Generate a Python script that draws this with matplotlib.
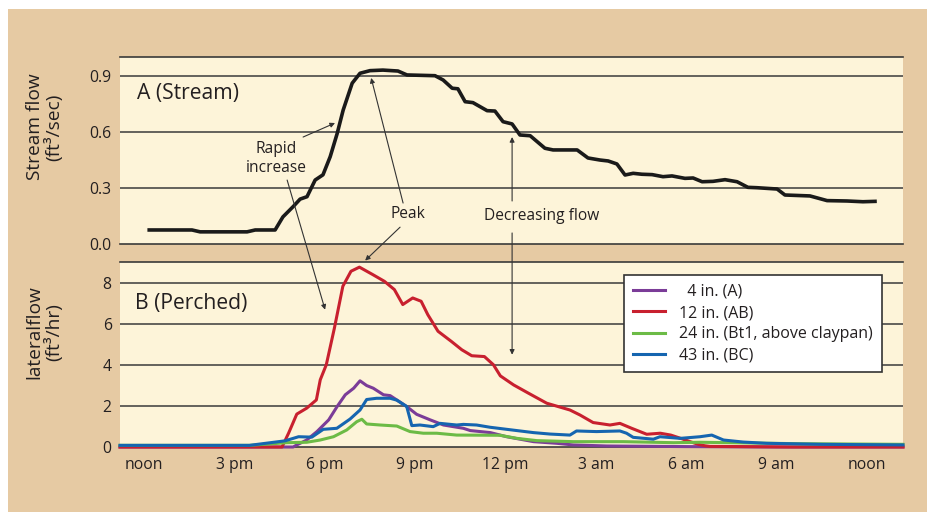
import matplotlib
matplotlib.use("Agg")
import matplotlib.pyplot as plt
from matplotlib.patches import Rectangle

plt.rcParams['font.family'] = ['Open Sans', 'DejaVu Sans']

# ---------------- data ----------------
# hours after noon (day 1) -> noon (day 2)
stream_t = [0.17, 1.59, 1.86, 3.42, 3.69, 4.35, 4.61, 4.95, 5.18, 5.41, 5.68, 5.94, 6.18,
            6.41, 6.61, 6.91, 7.17, 7.50, 7.93, 8.43, 8.73, 9.66, 9.93, 10.23, 10.42, 10.66,
            10.92, 11.39, 11.65, 11.92, 12.22, 12.48, 12.82, 13.31, 13.58, 14.38, 14.74,
            15.14, 15.41, 15.70, 15.97, 16.24, 16.53, 16.87, 17.23, 17.53, 17.96, 18.23,
            18.53, 18.89, 19.29, 19.69, 20.05, 20.35, 21.02, 21.28, 22.11, 22.68, 23.34,
            23.87, 24.27]
stream_q = [0.075, 0.075, 0.065, 0.065, 0.075, 0.075, 0.145, 0.20, 0.240, 0.253, 0.342,
            0.370, 0.467, 0.590, 0.716, 0.860, 0.913, 0.927, 0.930, 0.925, 0.904, 0.900,
            0.877, 0.833, 0.830, 0.761, 0.756, 0.713, 0.711, 0.654, 0.642, 0.583, 0.579,
            0.512, 0.503, 0.503, 0.460, 0.449, 0.444, 0.428, 0.369, 0.378, 0.373, 0.371,
            0.360, 0.364, 0.351, 0.353, 0.333, 0.335, 0.344, 0.333, 0.303, 0.301, 0.294,
            0.262, 0.257, 0.232, 0.230, 0.226, 0.228]

# perched lateral flow, x in hours after noon
red_t = [-0.8, 3.5, 4.58, 4.80, 5.07, 5.40, 5.72, 5.85, 6.05, 6.32, 6.60, 6.87, 7.15, 7.59,
         7.98, 8.31, 8.59, 8.92, 9.20, 9.42, 9.76, 10.20, 10.55, 10.88, 11.30, 11.60, 11.83,
         12.27, 12.76, 13.37, 14.14, 14.47, 14.91, 15.47, 15.80, 16.19, 16.69, 17.14, 17.49,
         17.82, 18.13, 18.40, 18.62, 18.79, 19.79, 21.5, 23.0, 25.2]
red_v = [0.0, 0.0, 0.0, 0.68, 1.60, 1.89, 2.29, 3.27, 4.00, 5.79, 7.82, 8.55, 8.75, 8.39,
         8.06, 7.66, 6.93, 7.25, 7.09, 6.44, 5.63, 5.14, 4.73, 4.44, 4.40, 4.00, 3.46,
         3.02, 2.62, 2.13, 1.80, 1.56, 1.19, 1.07, 1.15, 0.91, 0.62, 0.67, 0.58, 0.42,
         0.26, 0.13, 0.06, 0.03, 0.02, 0.0, 0.0, 0.0]

purple_t = [-0.8, 3.5, 4.95, 5.07, 5.40, 5.74, 6.13, 6.41, 6.68, 6.96, 7.17, 7.39, 7.61,
            7.95, 8.17, 8.39, 8.72, 9.05, 9.50, 9.94, 10.27, 10.60, 10.83, 11.50, 12.04,
            12.93, 13.70, 14.25, 15.36, 17.98, 21.0, 25.2]
purple_v = [0.0, 0.0, 0.0, 0.10, 0.34, 0.75, 1.32, 1.97, 2.54, 2.86, 3.22, 2.99, 2.86,
            2.54, 2.50, 2.29, 1.97, 1.59, 1.32, 1.07, 0.99, 0.91, 0.80, 0.70, 0.50,
            0.26, 0.18, 0.10, 0.05, 0.02, 0.0, 0.0]

blue_t = [-0.8, 3.5, 4.68, 5.13, 5.57, 5.95, 6.40, 6.84, 7.17, 7.39, 7.72, 8.17, 8.39,
          8.72, 8.89, 9.16, 9.60, 9.83, 10.38, 10.60, 11.04, 11.49, 12.04, 12.93, 13.48,
          14.14, 14.36, 15.02, 15.80, 16.02, 16.24, 16.91, 17.13, 17.80, 18.46, 18.85,
          19.24, 19.90, 20.67, 22.5, 25.2]
blue_v = [0.08, 0.08, 0.30, 0.50, 0.48, 0.86, 0.91, 1.36, 1.80, 2.31, 2.37, 2.37, 2.28,
          1.97, 1.04, 1.07, 0.99, 1.15, 1.07, 1.10, 1.07, 0.96, 0.86, 0.70, 0.63, 0.58,
          0.78, 0.75, 0.78, 0.67, 0.47, 0.38, 0.50, 0.42, 0.50, 0.58, 0.34, 0.24, 0.18,
          0.13, 0.10]

green_t = [-0.8, 3.5, 4.18, 4.74, 5.40, 5.85, 6.29, 6.73, 7.06, 7.23, 7.39, 7.84, 8.39,
           8.83, 9.27, 9.72, 10.38, 11.82, 12.38, 13.04, 14.25, 15.91, 17.58, 18.46,
           21.78, 25.2]
green_v = [0.08, 0.08, 0.15, 0.21, 0.23, 0.34, 0.50, 0.83, 1.23, 1.35, 1.12, 1.07, 1.02,
           0.75, 0.67, 0.67, 0.58, 0.57, 0.42, 0.31, 0.26, 0.26, 0.21, 0.23, 0.16, 0.13]

series_labels = ['  4 in. (A)', '12 in. (AB)', '24 in. (Bt1, above claypan)', '43 in. (BC)']
series_colors = ['#7b3c98', '#c8202f', '#6cbb46', '#1565b0']

tick_hours = [0, 3, 6, 9, 12, 15, 18, 21, 24]
tick_labels = ['noon', '3 pm', '6 pm', '9 pm', '12 pm', '3 am', '6 am', '9 am', 'noon']

# ---------------- style ----------------
TAN = '#e6caa3'
PANEL = '#fdf4d9'
TXT = '#231f20'
GRID = '#3a3a3a'

W, H = 927, 512
fig = plt.figure(figsize=(W / 100, H / 100), dpi=100, facecolor='white')
fig.add_artist(Rectangle((8 / W, 0), 1 - 8 / W, 1 - 9 / H, transform=fig.transFigure,
                         facecolor=TAN, edgecolor='none', zorder=-10))

left, width = 120 / W, 783 / W
ax1 = fig.add_axes([left, 1 - 244 / H, width, 187 / H])
ax2 = fig.add_axes([left, 1 - 447 / H, width, 185 / H])

xlim = (-0.8, 25.2)
for ax in (ax1, ax2):
    ax.set_facecolor(PANEL)
    ax.set_xlim(*xlim)
    for s in ('left', 'right'):
        ax.spines[s].set_visible(False)
    for s in ('top', 'bottom'):
        ax.spines[s].set_color(GRID)
        ax.spines[s].set_linewidth(1.2)
    ax.tick_params(length=0, labelsize=11.3, colors=TXT, pad=6)
    ax.set_xticks(tick_hours)

# top panel
ax1.set_ylim(0, 1.0)
ax1.set_yticks([0.0, 0.3, 0.6, 0.9])
ax1.set_yticklabels(['0.0', '0.3', '0.6', '0.9'])
for v in [0.3, 0.6, 0.9]:
    ax1.axhline(v, color=GRID, lw=1.1, zorder=1)
ax1.set_xticklabels([])
ax1.plot(stream_t, stream_q, color='#1a1a1a', lw=2.6, zorder=3, solid_joinstyle='round')
ax1.set_ylabel('Stream flow\n(ft\u00b3/sec)', fontsize=13.8, color=TXT, linespacing=1.05)
ax1.yaxis.set_label_coords(-0.072, 0.626)
ax1.text(0.022, 0.807, 'A (Stream)', transform=ax1.transAxes, fontsize=15.2,
         color=TXT, va='center', ha='left')

# bottom panel
ax2.set_ylim(0, 9.0)
ax2.set_yticks([0, 2, 4, 6, 8])
for v in [2, 4, 6, 8]:
    ax2.axhline(v, color=GRID, lw=1.1, zorder=1)
ax2.set_xticklabels(tick_labels)
ax2.tick_params(axis='x', pad=7)
lines = []
for t, v, c, lab in [(purple_t, purple_v, series_colors[0], series_labels[0]),
                     (red_t, red_v, series_colors[1], series_labels[1]),
                     (green_t, green_v, series_colors[2], series_labels[2]),
                     (blue_t, blue_v, series_colors[3], series_labels[3])]:
    ln, = ax2.plot(t, v, color=c, lw=2.2, label=lab, zorder=3, clip_on=False)
    lines.append(ln)
ax2.set_ylabel('lateralflow\n(ft\u00b3/hr)', fontsize=13.8, color=TXT, linespacing=1.05)
ax2.yaxis.set_label_coords(-0.072, 0.62)
ax2.text(0.019, 0.778, 'B (Perched)', transform=ax2.transAxes, fontsize=15.2,
         color=TXT, va='center', ha='left')

leg = ax2.legend(handles=lines, loc='upper left', bbox_to_anchor=(0.644, 0.93),
                 borderaxespad=0, fontsize=11.5, frameon=True, fancybox=False,
                 framealpha=1, edgecolor='#333333', handlelength=2.0,
                 handletextpad=0.9, labelspacing=0.33, borderpad=0.55)
leg.get_frame().set_linewidth(1.2)
for t in leg.get_texts():
    t.set_color(TXT)
leg.set_zorder(5)

# annotations
ap = dict(arrowstyle='-|>', lw=0.8, color='#333333', mutation_scale=7,
          shrinkA=0, shrinkB=0)
ax1.text(0.2, 0.455, 'Rapid\nincrease', transform=ax1.transAxes, fontsize=11.2,
         color=TXT, ha='center', va='center', linespacing=1.25)
ax1.annotate('', xy=(6.34, 0.647), xytext=(5.28, 0.572), arrowprops=ap,
             annotation_clip=False)
ax2.annotate('', xy=(6.01, 6.68), xycoords=ax2.transData, xytext=(4.75, 0.342),
             textcoords=ax1.transData, arrowprops=ap, annotation_clip=False)

ax1.text(8.77, 0.16, 'Peak', fontsize=11.2, color=TXT, ha='center', va='center')
ax1.annotate('', xy=(7.54, 0.888), xytext=(8.6, 0.219), arrowprops=ap,
             annotation_clip=False)
ax2.annotate('', xy=(7.34, 9.07), xycoords=ax2.transData, xytext=(8.5, 0.09),
             textcoords=ax1.transData, arrowprops=ap, annotation_clip=False)

ax1.text(13.2, 0.15, 'Decreasing flow', fontsize=11.2, color=TXT, ha='center', va='center')
ax1.annotate('', xy=(12.22, 0.572), xytext=(12.22, 0.23), arrowprops=ap,
             annotation_clip=False)
ax2.annotate('', xy=(12.22, 4.49), xycoords=ax2.transData, xytext=(12.22, 0.059),
             textcoords=ax1.transData, arrowprops=ap, annotation_clip=False)

fig.savefig('out.png', dpi=100, facecolor='white')
